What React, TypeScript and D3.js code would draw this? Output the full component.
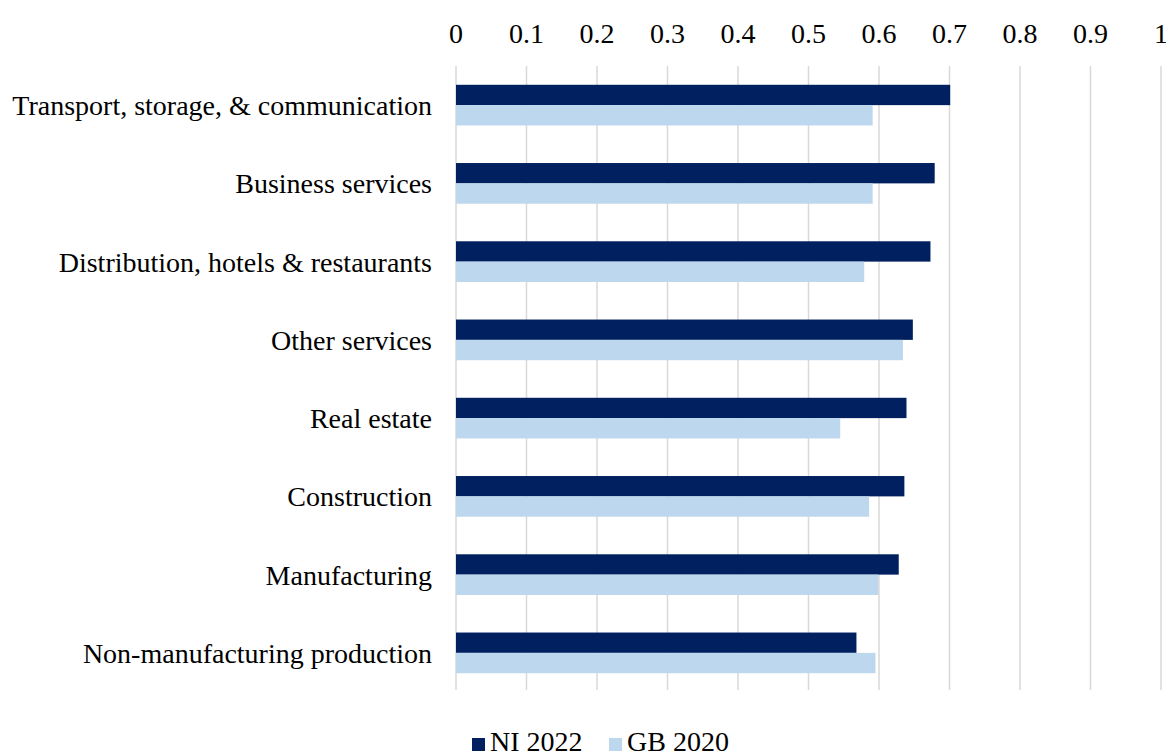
import React from "react";
import * as d3 from "d3";

const categories = [
  "Transport, storage, & communication",
  "Business services",
  "Distribution, hotels & restaurants",
  "Other services",
  "Real estate",
  "Construction",
  "Manufacturing",
  "Non-manufacturing production",
];
const ni2022 = [0.701, 0.679, 0.673, 0.648, 0.639, 0.636, 0.628, 0.568];
const gb2020 = [0.591, 0.591, 0.579, 0.634, 0.545, 0.586, 0.599, 0.595];
const xTicks = [0, 0.1, 0.2, 0.3, 0.4, 0.5, 0.6, 0.7, 0.8, 0.9, 1];
const seriesNames = ["NI 2022", "GB 2020"];
const colors = ["#002060", "#BDD7EE"];

export default function App() {
  const W = 1166, H = 754;
  const left = 456, right = 1161, top = 66, bottom = 692;
  const x = d3.scaleLinear().domain([0, 1]).range([left, right]);
  const y = d3.scaleBand<string>().domain(categories).range([top, bottom]).paddingInner(0.48).paddingOuter(0.24);
  const sub = d3.scaleBand<string>().domain(seriesNames).range([0, y.bandwidth()]);
  const font = "'Liberation Serif', 'Times New Roman', serif";
  const fs = 28;
  return (
    <svg width={W} height={H} style={{ position: "absolute", left: 0, top: 0, background: "#fff" }} fontFamily={font}>
      {xTicks.map((t) => (
        <g key={t}>
          <line x1={x(t)} x2={x(t)} y1={top} y2={bottom - 2} stroke="#D9D9D9" strokeWidth={1.5} />
          <text x={x(t)} y={43} textAnchor="middle" fontSize={fs} fill="#000">{d3.format("")(t)}</text>
        </g>
      ))}
      {categories.map((c, i) => (
        <g key={c}>
          <rect x={x(0)} y={(y(c) as number) + (sub("NI 2022") as number)} width={x(ni2022[i]) - x(0)} height={sub.bandwidth()} fill={colors[0]} />
          <rect x={x(0)} y={(y(c) as number) + (sub("GB 2020") as number)} width={x(gb2020[i]) - x(0)} height={sub.bandwidth()} fill={colors[1]} />
          <text x={432} y={(y(c) as number) + y.bandwidth() / 2 + 10} textAnchor="end" fontSize={fs} fill="#000">{c}</text>
        </g>
      ))}
      {seriesNames.map((s, i) => {
        const lx = i === 0 ? 472 : 609;
        return (
          <g key={s}>
            <rect x={lx} y={738} width={13} height={13} fill={colors[i]} />
            <text x={lx + 18} y={751} fontSize={fs} fill="#000">{s}</text>
          </g>
        );
      })}
    </svg>
  );
}
